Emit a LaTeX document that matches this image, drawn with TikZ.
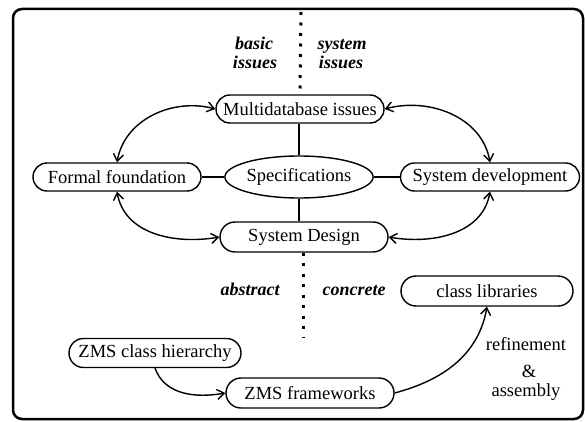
\documentclass[tikz,border=0pt]{standalone}
\usepackage{fontspec}
\setmainfont{Liberation Serif}
\usetikzlibrary{shapes.misc,shapes.geometric,arrows.meta}
\begin{document}
\begin{tikzpicture}[x=1pt,y=-1pt,
  box/.style={draw, rounded rectangle, line width=1.4pt, inner sep=0pt, minimum height=28pt, font=\fontsize{18.5}{20}\selectfont},
  ell/.style={draw, ellipse, line width=1.4pt, inner sep=0pt, font=\fontsize{18.5}{20}\selectfont},
  lbl/.style={font=\fontsize{18}{20}\selectfont\bfseries\itshape, inner sep=0pt, anchor=base, text depth=0pt},
  txt/.style={font=\fontsize{18.5}{20}\selectfont, inner sep=0pt, anchor=base},
  conn/.style={line width=1.4pt},
  barb/.tip={Straight Barb[length=7pt,width=10pt]},
  arr/.style={line width=1.4pt, barb-barb},
  arrone/.style={line width=1.4pt, -barb},
  dots/.style={line width=3pt, dash pattern=on 3pt off 7.5pt}]
\useasboundingbox (0,0) rectangle (585,422);
\draw[line width=2.5pt, rounded corners=9pt] (13,9) rectangle (583,419);

\node[box, minimum width=168pt] (md) at (300,109) {Multidatabase issues};
\node[box, minimum width=168pt] (ff) at (117,177) {Formal foundation};
\node[ell, minimum width=144pt, minimum height=42pt] (spec) at (299,177) {Specifications};
\node[box, minimum width=179pt] (sd) at (490,177) {System development};
\node[box, minimum width=168pt, minimum height=30pt] (sdes) at (304,237) {System Design};
\node[box, minimum width=172pt, minimum height=30pt] (cl) at (487,291) {class libraries};
\node[box, minimum width=172pt, minimum height=29pt] (zch) at (155,353) {ZMS class hierarchy};
\node[box, minimum width=168pt, minimum height=30pt] (zf) at (310,393) {ZMS frameworks};

\node[lbl] (b1) at (254,50) {basic};
\node[lbl] (b2) at (255,69) {issues};
\node[lbl] (s1) at (342,50) {system};
\node[lbl] (s2) at (341,69) {issues};
\node[lbl] (abs) at (250,295) {abstract};
\node[lbl] (con) at (354,295) {concrete};
\node[txt] (r1) at (526,350) {refinement};
\node[txt] (r2) at (529,377) {\&};
\node[txt] (r3) at (526,396) {assembly};

\coordinate (dtop) at (301,12);
\coordinate (dbot) at (303,337);
\draw[dots] (dtop) -- (md.north);
\draw[dots] (sdes.south -| dbot) -- (dbot);

\draw[conn] (md.south -| spec.north) -- (spec.north);
\draw[conn] (spec.south) -- (spec.south |- sdes.north);
\draw[conn] (ff.east) -- (spec.west);
\draw[conn] (spec.east) -- (sd.west);

\draw[arr] (md.west) to[out=165, in=80] (ff.north);
\draw[arr] (ff.south) to[out=-80, in=190] (sdes.west);
\draw[arr] (md.east) to[out=15, in=100] (sd.north);
\draw[arr] (sd.south) to[out=-100, in=-10] (sdes.east);
\draw[arrone] (zch.south) to[out=-70, in=190] (zf.west);
\draw[arrone] (zf.east) to[out=15, in=-100] (cl.south);
\end{tikzpicture}
\end{document}
